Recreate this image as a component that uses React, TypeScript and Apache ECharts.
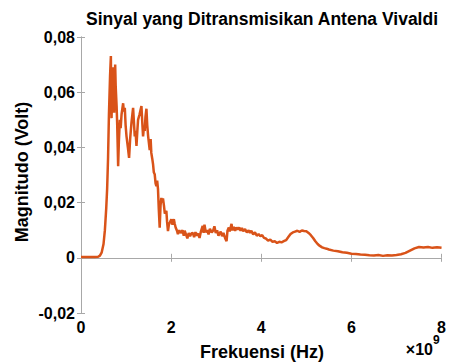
import React, { useEffect, useRef } from "react";
import * as echarts from "echarts";

const freqGHz = [
  0.0, 0.1, 0.2, 0.3, 0.38, 0.42, 0.46, 0.5, 0.53, 0.56, 0.58, 0.6, 0.62, 0.645, 0.663, 0.67, 0.678, 0.69, 0.714, 0.725,
  0.736, 0.758, 0.77, 0.79, 0.802, 0.815, 0.824, 0.84, 0.862, 0.88, 0.9, 0.935, 0.95, 0.972, 0.99, 1.01, 1.04, 1.067, 1.09, 1.12,
  1.14, 1.156, 1.175, 1.193, 1.21, 1.231, 1.25, 1.266, 1.3, 1.341, 1.36, 1.377, 1.395, 1.414, 1.43, 1.452, 1.47, 1.49, 1.525, 1.545,
  1.56, 1.58, 1.598, 1.615, 1.635, 1.655, 1.673, 1.69, 1.708, 1.725, 1.746, 1.765, 1.783, 1.8, 1.819, 1.84, 1.86, 1.894, 1.91, 1.93,
  1.95, 1.975, 2.004, 2.03, 2.06, 2.077, 2.1, 2.13, 2.15, 2.18, 2.21, 2.254, 2.28, 2.3, 2.33, 2.36, 2.39, 2.42, 2.45, 2.48,
  2.51, 2.54, 2.57, 2.6, 2.63, 2.66, 2.7, 2.72, 2.74, 2.77, 2.8, 2.83, 2.86, 2.9, 2.93, 2.96, 2.99, 3.02, 3.05, 3.07,
  3.1, 3.13, 3.16, 3.2, 3.23, 3.25, 3.28, 3.3, 3.34, 3.36, 3.39, 3.42, 3.45, 3.48, 3.51, 3.54, 3.57, 3.6, 3.64, 3.68,
  3.72, 3.75, 3.78, 3.82, 3.86, 3.9, 3.94, 3.98, 4.02, 4.06, 4.1, 4.15, 4.2, 4.25, 4.3, 4.35, 4.4, 4.45, 4.5, 4.55,
  4.6, 4.65, 4.7, 4.75, 4.8, 4.85, 4.9, 4.95, 5.0, 5.05, 5.1, 5.15, 5.2, 5.25, 5.3, 5.35, 5.4, 5.45, 5.5, 5.6,
  5.7, 5.8, 5.9, 6.0, 6.1, 6.2, 6.3, 6.4, 6.5, 6.6, 6.7, 6.8, 6.9, 7.0, 7.1, 7.2, 7.3, 7.4, 7.5, 7.6,
  7.7, 7.8, 7.9, 8.0,
];

const magnitudeVolt = [
  0.0003, 0.0003, 0.0003, 0.0003, 0.0004, 0.0008, 0.002, 0.005, 0.01, 0.018, 0.025, 0.036, 0.052, 0.066, 0.0731, 0.058, 0.0506, 0.06, 0.069, 0.058,
  0.0526, 0.07, 0.062, 0.055, 0.049, 0.04, 0.0332, 0.042, 0.05, 0.047, 0.052, 0.056, 0.053, 0.0543, 0.048, 0.044, 0.04, 0.0362, 0.043, 0.049,
  0.052, 0.0543, 0.049, 0.044, 0.046, 0.0405, 0.046, 0.05, 0.052, 0.055, 0.049, 0.044, 0.047, 0.046, 0.051, 0.054, 0.048, 0.044, 0.039, 0.043,
  0.038, 0.036, 0.034, 0.031, 0.0303, 0.027, 0.026, 0.028, 0.025, 0.018, 0.0109, 0.019, 0.0217, 0.02, 0.0215, 0.019, 0.016, 0.017, 0.013, 0.0097,
  0.012, 0.013, 0.014, 0.012, 0.014, 0.0125, 0.011, 0.0098, 0.0086, 0.01, 0.009, 0.01, 0.008, 0.0098, 0.0085, 0.007, 0.009, 0.0078, 0.0088, 0.009,
  0.0075, 0.0093, 0.008, 0.0088, 0.0072, 0.0095, 0.0116, 0.009, 0.012, 0.0092, 0.01, 0.0085, 0.0105, 0.0092, 0.0098, 0.0114, 0.009, 0.01, 0.008, 0.0087,
  0.0095, 0.0078, 0.009, 0.007, 0.006, 0.0098, 0.011, 0.0095, 0.0123, 0.01, 0.0112, 0.0098, 0.011, 0.0102, 0.011, 0.0098, 0.0108, 0.0096, 0.0104, 0.0092,
  0.01, 0.009, 0.0098, 0.0085, 0.0092, 0.008, 0.0086, 0.0078, 0.0082, 0.0072, 0.007, 0.0062, 0.0066, 0.0058, 0.006, 0.0054, 0.0058, 0.0056, 0.006, 0.0064,
  0.0075, 0.0086, 0.0092, 0.0095, 0.0098, 0.0094, 0.0099, 0.0097, 0.0096, 0.009, 0.0082, 0.0072, 0.006, 0.005, 0.0043, 0.0038, 0.0035, 0.0033, 0.003, 0.0026,
  0.0024, 0.002, 0.0018, 0.0015, 0.0014, 0.0012, 0.0011, 0.0009, 0.0008, 0.001, 0.0007, 0.0009, 0.0008, 0.001, 0.0013, 0.0018, 0.0026, 0.0034, 0.0039, 0.0037,
  0.0039, 0.0036, 0.0038, 0.0036,
];

const xTicks = [0, 2, 4, 6, 8];
const yTicks = [-0.02, 0, 0.02, 0.04, 0.06, 0.08];

const titleText = "Sinyal yang Ditransmisikan Antena Vivaldi";
const xName = "Frekuensi (Hz)";
const yName = "Magnitudo (Volt)";
const xExpBase = "×10";
const xExpPower = "9";

const FONT = "'Liberation Sans', Arial, sans-serif";
const AXIS_COLOR = "#a8a8a8";
const LINE_COLOR = "#d95319";

function fmtY(v: number): string {
  if (Math.abs(v) < 1e-9) return "0";
  return v.toFixed(2).replace(".", ",");
}

export default function App() {
  const ref = useRef<HTMLDivElement>(null);
  useEffect(() => {
    if (!ref.current) return;
    const chart = echarts.init(ref.current, undefined, { renderer: "svg" });
    const data = freqGHz.map((f, i) => [f, magnitudeVolt[i]]);
    const left = 81, top = 37, width = 362, height = 276;
    const axisCommon = {
      axisLine: { show: true, lineStyle: { color: AXIS_COLOR, width: 1 } },
      axisTick: { show: true, inside: true, length: 4, lineStyle: { color: AXIS_COLOR } },
      splitLine: { show: false },
    };
    chart.setOption({
      animation: false,
      grid: { left, top, width, height, containLabel: false },
      xAxis: [
        {
          type: "value",
          min: xTicks[0],
          max: xTicks[xTicks.length - 1],
          interval: 2,
          position: "bottom",
          ...axisCommon,
          axisLabel: { color: "#000", fontFamily: FONT, fontWeight: "bold", fontSize: 16, margin: 6 },
        },
        {
          type: "value",
          min: xTicks[0],
          max: xTicks[xTicks.length - 1],
          interval: 2,
          position: "top",
          ...axisCommon,
          axisLabel: { show: false },
        },
      ],
      yAxis: [
        {
          type: "value",
          min: yTicks[0],
          max: yTicks[yTicks.length - 1],
          interval: 0.02,
          position: "left",
          ...axisCommon,
          axisLabel: { color: "#000", fontFamily: FONT, fontWeight: "bold", fontSize: 16, margin: 6, formatter: fmtY },
        },
        {
          type: "value",
          min: yTicks[0],
          max: yTicks[yTicks.length - 1],
          interval: 0.02,
          position: "right",
          ...axisCommon,
          axisLabel: { show: false },
        },
      ],
      series: [
        {
          type: "line",
          data,
          xAxisIndex: 0,
          yAxisIndex: 0,
          showSymbol: false,
          symbol: "none",
          lineStyle: { color: LINE_COLOR, width: 2.5 },
          itemStyle: { color: LINE_COLOR },
        },
      ],
      graphic: [
        {
          type: "text",
          x: left + width / 2,
          y: 19,
          style: { text: titleText, fill: "#000", font: `bold 17.5px ${FONT}`, textAlign: "center", textVerticalAlign: "middle" },
        },
        {
          type: "text",
          x: left + width / 2,
          y: 352,
          style: { text: xName, fill: "#000", font: `bold 18px ${FONT}`, textAlign: "center", textVerticalAlign: "middle" },
        },
        {
          type: "text",
          x: 22,
          y: 172,
          rotation: Math.PI / 2,
          style: { text: yName, fill: "#000", font: `bold 18px ${FONT}`, textAlign: "center", textVerticalAlign: "middle" },
        },
        {
          type: "text",
          x: 433,
          y: 349,
          style: { text: xExpBase, fill: "#000", font: `bold 16px ${FONT}`, textAlign: "right", textVerticalAlign: "middle" },
        },
        {
          type: "text",
          x: 433,
          y: 340,
          style: { text: xExpPower, fill: "#000", font: `bold 12px ${FONT}`, textAlign: "left", textVerticalAlign: "middle" },
        },
      ],
    });
    return () => chart.dispose();
  }, []);
  return <div ref={ref} style={{ position: "fixed", left: 0, top: 0, width: 449, height: 363, background: "#fff" }} />;
}
